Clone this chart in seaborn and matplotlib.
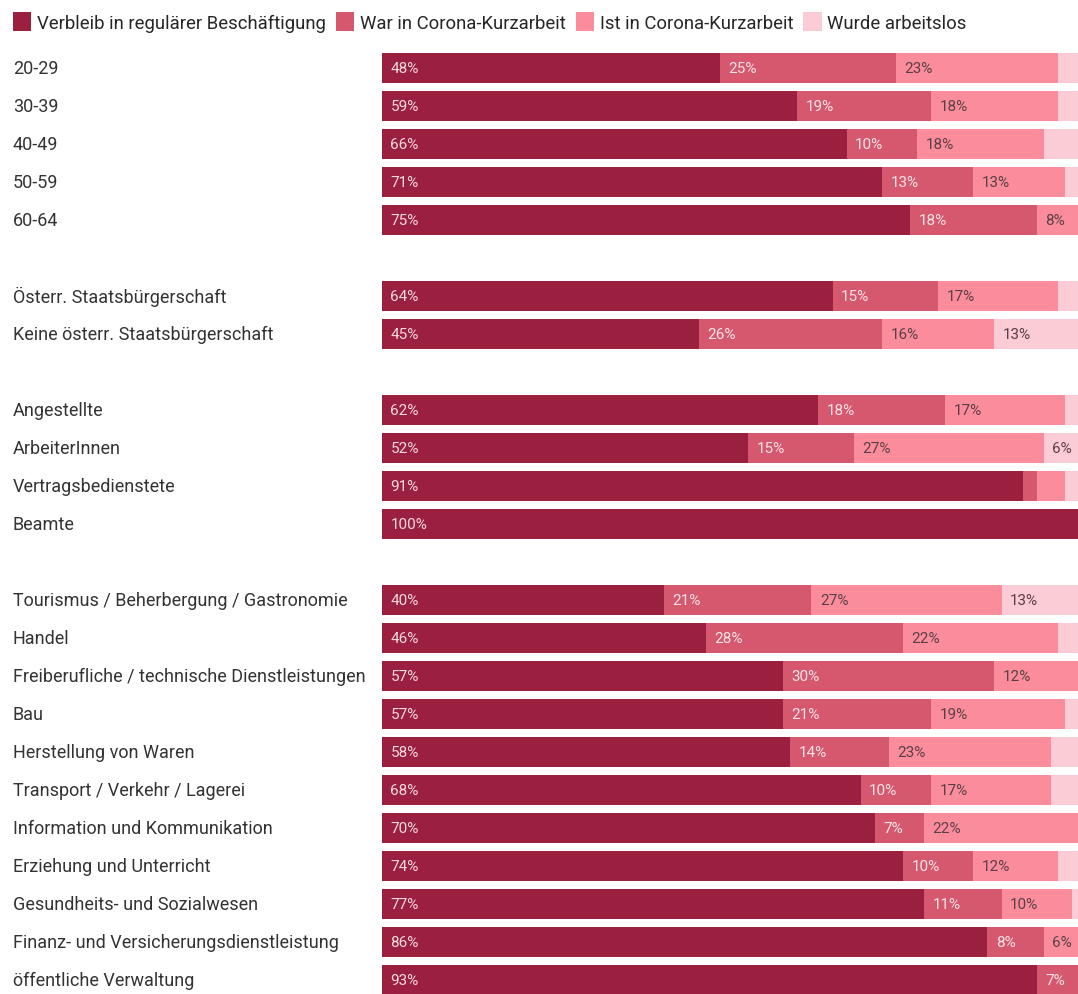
import matplotlib
matplotlib.use("Agg")
import matplotlib.pyplot as plt
import matplotlib.transforms as mtransforms
from matplotlib.patches import Patch
import numpy as np
import pandas as pd
import seaborn as sns

# data (percent)
categories = [
    "20-29", "30-39", "40-49", "50-59", "60-64",
    "Österr. Staatsbürgerschaft", "Keine österr. Staatsbürgerschaft",
    "Angestellte", "ArbeiterInnen", "Vertragsbedienstete", "Beamte",
    "Tourismus / Beherbergung / Gastronomie", "Handel",
    "Freiberufliche / technische Dienstleistungen", "Bau",
    "Herstellung von Waren", "Transport / Verkehr / Lagerei",
    "Information und Kommunikation", "Erziehung und Unterricht",
    "Gesundheits- und Sozialwesen", "Finanz- und Versicherungsdienstleistung",
    "öffentliche Verwaltung",
]
group_sizes = [5, 2, 4, 11]
series_names = ["Verbleib in regulärer Beschäftigung", "War in Corona-Kurzarbeit",
                "Ist in Corona-Kurzarbeit", "Wurde arbeitslos"]
regular = [48, 59, 66, 71, 75, 64, 45, 62, 52, 91, 100, 40, 46, 57, 57, 58, 68, 70, 74, 77, 86, 93]
was_short = [25, 19, 10, 13, 18, 15, 26, 18, 15, 2, 0, 21, 28, 30, 21, 14, 10, 7, 10, 11, 8, 7]
is_short = [23, 18, 18, 13, 8, 17, 16, 17, 27, 4, 0, 27, 22, 12, 19, 23, 17, 22, 12, 10, 6, 0]
unemployed = [4, 4, 5, 3, 0, 4, 13, 3, 6, 3, 0, 13, 4, 1, 3, 5, 5, 1, 4, 2, 0, 0]

colors = ["#9b1f3e", "#d5586f", "#fa8c9c", "#fcccd6"]
label_colors = ["#f6dce2", "#f8e4e8", "#5b3f46", "#5b3f46"]

# row positions with one empty row between groups
pos = []
p = 0
for size in group_sizes:
    pos.extend(range(p, p + size))
    p += size + 1

values = np.array([regular, was_short, is_short, unemployed])
stack = np.cumsum(values, axis=0)
df = pd.DataFrame({"pos": pos})
for i in range(4):
    df[f"cum{i}"] = stack[i]

sns.set_theme(style="white")
plt.rcParams["font.family"] = ["Roboto", "DejaVu Sans"]

fig = plt.figure(figsize=(10.78, 9.95), dpi=100)
ax = fig.add_axes([382 / 1078, 0, 1 - 382 / 1078, (995 - 50) / 995])

# stacked bars: draw cumulative totals back to front
for i in reversed(range(4)):
    sns.barplot(data=df, x=f"cum{i}", y="pos", orient="h", native_scale=True,
                color=colors[i], saturation=1, width=0.78, errorbar=None,
                linewidth=0, ax=ax)

# segment labels
for r, y in enumerate(pos):
    for i in range(4):
        v = values[i, r]
        if v >= 6:
            start = stack[i - 1, r] if i > 0 else 0
            ax.text(start + 1.2, y, f"{v}%", va="center", ha="left",
                    fontsize=11, color=label_colors[i], clip_on=True)

# row labels at left edge of figure
trans = mtransforms.blended_transform_factory(fig.transFigure, ax.transData)
for name, y in zip(categories, pos):
    ax.text(13 / 1078, y, name, transform=trans, ha="left", va="center",
            fontsize=13, color="#333333")

ax.set_xlim(0, 100 * 696 / 704)
ax.set_ylim(24.37, -0.5)
ax.set_xticks([])
ax.set_yticks([])
ax.set_xlabel("")
ax.set_ylabel("")
for s in ax.spines.values():
    s.set_visible(False)

handles = [Patch(facecolor=c, edgecolor="none") for c in colors]
fig.legend(handles, series_names, loc="upper left", bbox_to_anchor=(0.005, 0.994),
           ncol=4, frameon=False, fontsize=13.3, handlelength=1.0, handleheight=1.2,
           handletextpad=0.3, columnspacing=0.55, borderaxespad=0)

fig.savefig("out.png", dpi=100)
